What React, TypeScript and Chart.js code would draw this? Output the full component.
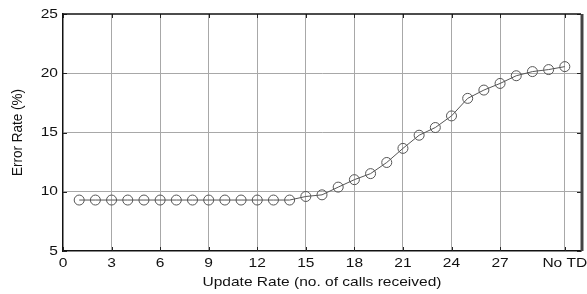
import React, { useEffect, useRef } from "react";
import { Chart, registerables } from "chart.js";

Chart.register(...registerables);

const xValues = [1, 2, 3, 4, 5, 6, 7, 8, 9, 10, 11, 12, 13, 14, 15, 16, 17, 18, 19, 20, 21, 22, 23, 24, 25, 26, 27, 28, 29, 30, 31];
const errorRate = [9.3, 9.3, 9.3, 9.3, 9.3, 9.3, 9.3, 9.3, 9.3, 9.3, 9.3, 9.3, 9.3, 9.3, 9.6, 9.74, 10.39, 11.02, 11.53, 12.47, 13.66, 14.77, 15.42, 16.4, 17.88, 18.58, 19.14, 19.79, 20.14, 20.31, 20.56];
const xTickValues = [0, 3, 6, 9, 12, 15, 18, 21, 24, 27, 31];
const xTickLabels: Record<number, string> = { 31: "No TD" };
const yTickValues = [5, 10, 15, 20, 25];

const FONT = "'Liberation Sans', Arial, Helvetica, sans-serif";
const TEXT_STRETCH_X = 1.15;

const textStretchPlugin = {
  id: "textStretch",
  beforeDraw(chart: any) {
    const ctx = chart.ctx as any;
    if (ctx.__stretched) return;
    ctx.__stretched = true;
    const orig = ctx.fillText.bind(ctx);
    ctx.fillText = function (text: string, x: number, y: number, maxWidth?: number) {
      const m = ctx.getTransform();
      const p = m.transformPoint(new DOMPoint(x, y));
      const s = new DOMMatrix()
        .translate(p.x, p.y)
        .scale(TEXT_STRETCH_X, 1)
        .translate(-p.x, -p.y)
        .multiply(m);
      ctx.setTransform(s);
      if (maxWidth !== undefined) orig(text, x, y, maxWidth * 2);
      else orig(text, x, y);
      ctx.setTransform(m);
    };
  },
};

const framePlugin = {
  id: "frameTicks",
  afterDraw(chart: any) {
    const { ctx, chartArea, scales } = chart;
    const { left, right, top, bottom } = chartArea;
    const x = scales.x;
    const y = scales.y;
    ctx.save();
    ctx.strokeStyle = "#222";
    ctx.lineWidth = 1;
    ctx.beginPath();
    for (const v of xTickValues) {
      const px = Math.round(x.getPixelForValue(v)) + 0.5;
      ctx.moveTo(px, bottom);
      ctx.lineTo(px, bottom - 4);
      ctx.moveTo(px, top);
      ctx.lineTo(px, top + 4);
    }
    for (const v of yTickValues) {
      const py = Math.round(y.getPixelForValue(v)) + 0.5;
      ctx.moveTo(left, py);
      ctx.lineTo(left + 4, py);
      ctx.moveTo(right, py);
      ctx.lineTo(right - 4, py);
    }
    ctx.stroke();
    ctx.lineWidth = 1.5;
    ctx.strokeStyle = "#111";
    ctx.beginPath();
    ctx.moveTo(left, top);
    ctx.lineTo(right, top);
    ctx.stroke();
    ctx.lineWidth = 3;
    ctx.strokeStyle = "#444";
    ctx.beginPath();
    ctx.moveTo(right + 1, top);
    ctx.lineTo(right + 1, bottom);
    ctx.stroke();
    ctx.restore();
  },
};

export default function App() {
  const canvasRef = useRef<HTMLCanvasElement | null>(null);

  useEffect(() => {
    const canvas = canvasRef.current;
    if (!canvas) return;
    const chart = new Chart(canvas, {
      type: "line",
      data: {
        datasets: [
          {
            data: xValues.map((v, i) => ({ x: v, y: errorRate[i] })),
            borderColor: "#555",
            borderWidth: 1,
            backgroundColor: "transparent",
            pointRadius: 5,
            pointBorderWidth: 1,
            pointBorderColor: "#555",
            pointBackgroundColor: "transparent",
            tension: 0,
          },
        ],
      },
      options: {
        animation: false,
        responsive: false,
        maintainAspectRatio: false,
        layout: { padding: { top: 14, right: 4, left: 0, bottom: 0 } },
        plugins: { legend: { display: false }, tooltip: { enabled: false } },
        scales: {
          x: {
            type: "linear",
            min: 0,
            max: 32,
            afterBuildTicks: (scale: any) => {
              scale.ticks = xTickValues.map((v) => ({ value: v }));
            },
            afterFit: (scale: any) => {
              scale.height = 43;
              scale.paddingLeft = 0;
              scale.paddingRight = 0;
            },
            border: { display: true, color: "#111", width: 1.5 },
            grid: {
              drawTicks: false,
              color: (c: any) => (c.tick && c.tick.value === 0 ? "transparent" : "#a8a8a8"),
              lineWidth: 1,
            },
            ticks: {
              autoSkip: false,
              maxRotation: 0,
              minRotation: 0,
              padding: 4,
              color: "#111",
              font: { family: FONT, size: 13.5 },
              callback: (v: any) => (xTickLabels[v] !== undefined ? xTickLabels[v] : String(v)),
            },
            title: {
              display: true,
              text: "Update Rate (no. of calls received)",
              color: "#111",
              font: { family: FONT, size: 13.5 },
              padding: { top: 0, bottom: 4 },
            },
          },
          y: {
            type: "linear",
            min: 5,
            max: 25,
            afterBuildTicks: (scale: any) => {
              scale.ticks = yTickValues.map((v) => ({ value: v }));
            },
            afterFit: (scale: any) => {
              scale.width = 63;
              scale.paddingTop = 0;
              scale.paddingBottom = 0;
            },
            border: { display: true, color: "#111", width: 1.5 },
            grid: {
              drawTicks: false,
              color: (c: any) =>
                c.tick && (c.tick.value === 5 || c.tick.value === 25) ? "transparent" : "#a8a8a8",
              lineWidth: 1,
            },
            ticks: {
              padding: 5,
              color: "#111",
              font: { family: FONT, size: 13.5 },
            },
            title: {
              display: true,
              text: "Error Rate (%)",
              color: "#111",
              font: { family: FONT, size: 13.5 },
              padding: { top: 10, bottom: 0 },
            },
          },
        },
      },
      plugins: [textStretchPlugin, framePlugin],
    });
    return () => chart.destroy();
  }, []);

  return (
    <div style={{ position: "fixed", left: 0, top: 0, width: 587, height: 294, background: "#fff" }}>
      <canvas ref={canvasRef} width={587} height={294} style={{ width: 587, height: 294, display: "block" }} />
    </div>
  );
}
